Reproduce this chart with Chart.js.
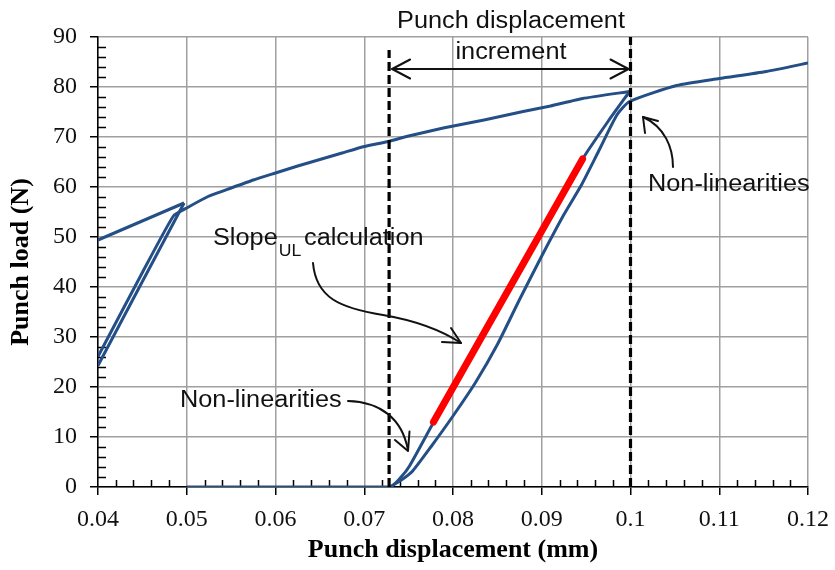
<!DOCTYPE html>
<html>
<head>
<meta charset="utf-8">
<script src="https://cdn.jsdelivr.net/npm/chart.js@4.4.1/dist/chart.umd.min.js"></script>
<style>
  html, body { margin: 0; padding: 0; background: #fff; }
</style>
</head>
<body>
<canvas id="chart" width="835" height="570"></canvas>
<script>
// axis ticks
const xTicks = [0.04, 0.05, 0.06, 0.07, 0.08, 0.09, 0.1, 0.11, 0.12];
const xTickLabels = ["0.04", "0.05", "0.06", "0.07", "0.08", "0.09", "0.1", "0.11", "0.12"];
const yTicks = [0, 10, 20, 30, 40, 50, 60, 70, 80, 90];

// loading up to the first peak
const env1X = [0.04, 0.0497];
const env1Y = [49.4, 56.8];

// first unloading
const unload1X = [0.0497, 0.045, 0.04];
const unload1Y = [56.8, 41.1, 24.3];

// first reloading, then loading on to 0.1 mm
const loadX = [0.04, 0.045, 0.0485, 0.0501, 0.0524, 0.055, 0.0575, 0.06, 0.0625, 0.065,
  0.0675, 0.07, 0.0727, 0.075, 0.0789, 0.0835, 0.0879, 0.091, 0.0946, 0.0999];
const loadY = [26.1, 42.9, 54.2, 55.9, 58.1, 59.8, 61.4, 62.8, 64.2, 65.5,
  66.8, 68.1, 69.1, 70.2, 71.8, 73.4, 75.1, 76.2, 77.7, 79.1];

// unloading from 0.1 mm, then back at zero load
const unload2X = [0.0999, 0.0975, 0.0946, 0.09, 0.085, 0.08, 0.0777, 0.0751, 0.0741, 0.0729, 0.05];
const unload2Y = [79.1, 73.2, 65.6, 51.2, 35.5, 19.8, 12.6, 4.2, 1.9, 0, 0];

// reloading and further loading
const reloadX = [0.0729, 0.0745, 0.0755, 0.0775, 0.08, 0.0825, 0.085, 0.0875, 0.09, 0.0925, 0.0945,
  0.0965, 0.0985, 0.0999, 0.1052, 0.11, 0.1153, 0.12];
const reloadY = [0, 1.8, 3.3, 8.0, 14.2, 20.8, 28.5, 37.5, 46.2, 54.5, 60.5,
  67.5, 74.5, 77.1, 80.3, 81.7, 83.1, 84.8];

// straight part used for the unloading slope
const slopeX = [0.0778, 0.0946];
const slopeY = [13.0, 65.6];

// displacement increment limits
const incStart = 0.0728;
const incEnd = 0.1;
const incTop = 87.4;
const arrowLoad = 83.6;

const BLUE = "#234f86";
const pts = (xs, ys) => xs.map((x, i) => ({ x: x, y: ys[i] }));

function blueLine(xs, ys, tension) {
  return {
    data: pts(xs, ys),
    borderColor: BLUE,
    borderWidth: 3,
    pointRadius: 0,
    showLine: true,
    tension: tension,
    fill: false,
  };
}

function dashLine(xv, top) {
  return {
    data: [{ x: xv, y: 0 }, { x: xv, y: top }],
    borderColor: "#000",
    borderWidth: 3.2,
    borderDash: [9, 4],
    pointRadius: 0,
    showLine: true,
  };
}

// small ticks between the labelled ones
const minorTicks = {
  id: "minorTicks",
  beforeDatasetsDraw(chart) {
    const { ctx, scales: { x, y } } = chart;
    ctx.save();
    ctx.strokeStyle = "#000";
    ctx.lineWidth = 1.5;
    ctx.beginPath();
    for (let i = 1; i < 40; i++) {
      if (i % 5 === 0) continue;
      const px = Math.round(x.getPixelForValue(0.04 + i * 0.002)) + 0.5;
      ctx.moveTo(px, y.bottom);
      ctx.lineTo(px, y.bottom - 7);
    }
    for (let i = 1; i < 45; i++) {
      if (i % 5 === 0) continue;
      const py = Math.round(y.getPixelForValue(i * 2)) + 0.5;
      ctx.moveTo(x.left, py);
      ctx.lineTo(x.left + 8, py);
    }
    ctx.stroke();
    ctx.restore();
  },
};

function label(ctx, str, x, y, size) {
  ctx.save();
  ctx.translate(x, y);
  ctx.scale(1.1, 1);
  ctx.font = size + 'px "Liberation Sans", Arial, sans-serif';
  ctx.textBaseline = "alphabetic";
  ctx.fillStyle = "#111";
  ctx.fillText(str, 0, 0);
  const w = ctx.measureText(str).width * 1.1;
  ctx.restore();
  return w;
}

function centered(ctx, str, cx, y, size) {
  ctx.save();
  ctx.font = size + 'px "Liberation Sans", Arial, sans-serif';
  const w = ctx.measureText(str).width * 1.1;
  ctx.restore();
  label(ctx, str, cx - w / 2, y, size);
}

function head(ctx, tip, a, b) {
  ctx.beginPath();
  ctx.moveTo(a[0], a[1]);
  ctx.lineTo(tip[0], tip[1]);
  ctx.lineTo(b[0], b[1]);
  ctx.stroke();
}

// callout texts and arrows
const callouts = {
  id: "callouts",
  afterDatasetsDraw(chart) {
    const { ctx, scales: { x, y } } = chart;
    ctx.save();
    ctx.strokeStyle = "#111";
    ctx.lineWidth = 2;
    ctx.lineCap = "round";
    ctx.lineJoin = "round";

    // double arrow across the increment
    const ay = y.getPixelForValue(arrowLoad);
    const x1 = x.getPixelForValue(incStart) + 3;
    const x2 = x.getPixelForValue(incEnd) - 2;
    ctx.beginPath();
    ctx.moveTo(x1, ay);
    ctx.lineTo(x2, ay);
    ctx.stroke();
    head(ctx, [x1, ay], [x1 + 18, ay - 9.5], [x1 + 18, ay + 9.5]);
    head(ctx, [x2, ay], [x2 - 18, ay - 9.5], [x2 - 18, ay + 9.5]);

    // slope callout
    ctx.beginPath();
    ctx.moveTo(313, 263);
    ctx.bezierCurveTo(316, 298, 340, 308, 383, 315);
    ctx.quadraticCurveTo(430, 323, 461, 343);
    ctx.stroke();
    head(ctx, [461, 343], [451, 328], [442, 342]);

    // lower non-linearity callout
    ctx.beginPath();
    ctx.moveTo(348, 401);
    ctx.bezierCurveTo(380, 402, 402, 418, 408, 450);
    ctx.stroke();
    head(ctx, [408, 451], [395, 440], [409.5, 431.5]);

    // upper non-linearity callout
    ctx.beginPath();
    ctx.moveTo(673, 167);
    ctx.bezierCurveTo(673, 148, 665, 127, 643, 117);
    ctx.stroke();
    head(ctx, [643, 117], [645, 133], [658, 121]);

    centered(ctx, "Punch displacement", 511, 28, 23);
    centered(ctx, "increment", 511, 59, 23);
    label(ctx, "Non-linearities", 648, 191, 23);
    label(ctx, "Non-linearities", 180, 407, 23);
    const w = label(ctx, "Slope", 213, 245, 23);
    label(ctx, "UL", 213 + w + 1, 256, 16);
    label(ctx, "calculation", 304, 245, 23);
    ctx.restore();
  },
};

const serif = '"Liberation Serif", "Times New Roman", serif';

new Chart(document.getElementById("chart"), {
  type: "scatter",
  data: {
    datasets: [
      dashLine(incEnd, 90),
      dashLine(incStart, incTop),
      {
        data: pts(slopeX, slopeY),
        borderColor: "#ff0000",
        borderWidth: 7,
        borderCapStyle: "round",
        pointRadius: 0,
        showLine: true,
      },
      blueLine(env1X, env1Y, 0),
      blueLine(unload1X, unload1Y, 0),
      blueLine(loadX, loadY, 0.15),
      blueLine(unload2X, unload2Y, 0.2),
      blueLine(reloadX, reloadY, 0.2),
    ],
  },
  options: {
    responsive: false,
    devicePixelRatio: 1,
    animation: false,
    layout: { padding: { top: 37, right: 27, left: 0, bottom: 0 } },
    plugins: {
      legend: { display: false },
      tooltip: { enabled: false },
    },
    scales: {
      x: {
        type: "linear",
        min: 0.04,
        max: 0.12,
        afterBuildTicks: (s) => { s.ticks = xTicks.map((v) => ({ value: v })); },
        afterFit: (s) => {
          s.height = 83;
          s.paddingLeft = 0;
          s.paddingRight = 0;
        },
        ticks: {
          callback: (v, i) => xTickLabels[i],
          font: { family: serif, size: 24 },
          color: "#111",
          padding: 10,
          maxRotation: 0,
          autoSkip: false,
        },
        grid: { color: "#a0a0a0", lineWidth: 1.5, tickLength: 8, tickColor: "#000", tickWidth: 1.5 },
        border: { color: "#000", width: 1.5 },
        title: {
          display: true,
          text: "Punch displacement (mm)",
          font: { family: serif, size: 26, weight: "bold" },
          color: "#000",
          padding: { top: 0, bottom: 4 },
        },
      },
      y: {
        type: "linear",
        min: 0,
        max: 90,
        afterBuildTicks: (s) => { s.ticks = yTicks.map((v) => ({ value: v })); },
        afterFit: (s) => {
          s.width = 98;
          s.paddingTop = 0;
          s.paddingBottom = 0;
        },
        ticks: {
          font: { family: serif, size: 24 },
          color: "#111",
          padding: 13,
          autoSkip: false,
        },
        grid: { color: "#a0a0a0", lineWidth: 1.5, tickLength: 8, tickColor: "#000", tickWidth: 1.5 },
        border: { color: "#000", width: 1.5 },
        title: {
          display: true,
          text: "Punch load (N)",
          font: { family: serif, size: 26, weight: "bold" },
          color: "#000",
          padding: { top: 6, bottom: 0 },
        },
      },
    },
  },
  plugins: [minorTicks, callouts],
});
</script>
</body>
</html>
